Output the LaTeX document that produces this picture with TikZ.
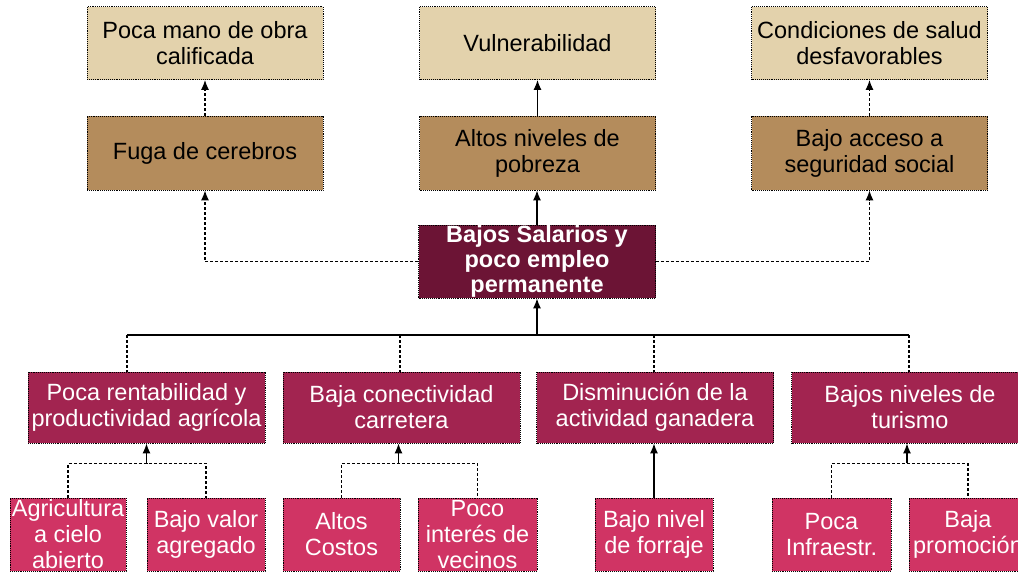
\documentclass[tikz,border=0pt]{standalone}
\usepackage{fontspec}
\setmainfont{Liberation Sans}
\usepackage{xcolor}
\usepackage{tikz}
\usetikzlibrary{positioning,arrows.meta}
\definecolor{beigeclaro}{HTML}{E3D2AC}
\definecolor{cafe}{HTML}{B48C5C}
\definecolor{vino}{HTML}{6C1435}
\definecolor{granate}{HTML}{A22450}
\definecolor{rosa}{HTML}{D03464}

\begin{document}
\begin{tikzpicture}[x=1pt,y=-1pt,
    caja/.style={draw=black,densely dotted,line width=0.9pt,align=center,inner sep=0pt,
        font=\fontsize{23.5}{26}\selectfont},
    efecto/.style={caja,fill=beigeclaro,minimum width=236pt,minimum height=73pt},
    consecuencia/.style={caja,fill=cafe,minimum width=236pt,minimum height=74pt},
    central/.style={caja,fill=vino,text=white,minimum width=237pt,minimum height=73pt,
        font=\bfseries\fontsize{23.5}{25}\selectfont},
    causa/.style={caja,fill=granate,text=white,minimum width=237pt,minimum height=71pt},
    subcausa/.style={caja,fill=rosa,text=white,minimum width=#1,minimum height=73pt},
    subcausa/.default=118pt,
    flecha/.style={line width=1.2pt,-{Latex[length=10pt,width=8pt]}},
    enlace/.style={flecha,densely dashed},
    tramo/.style={line width=1.2pt,densely dashed}
]
            \path[use as bounding box] (0,0) rectangle (1018,573);
            \clip (0,0) rectangle (1018,573);

            \node[efecto] (mano) at (205,43) {Poca mano de obra\\calificada};
            \node[efecto] (vulner) at (537.5,43) {Vulnerabilidad};
            \node[efecto] (salud) at (869.5,43) {Condiciones de salud\\desfavorables};

            \node[consecuencia] (fuga) at (205,153) {Fuga de cerebros};
            \node[consecuencia] (pobreza) at (537.5,153) {Altos niveles de\\pobreza};
            \node[consecuencia] (seguro) at (869.5,153) {Bajo acceso a\\seguridad social};

            \node[central] (salario) at (537,261.5) {Bajos Salarios y\\poco empleo\\permanente};

            \node[causa] (rent) at (146.5,407.5) {Poca rentabilidad y\\productividad agrícola};
            \node[causa] (conect) at (401.5,407.5) {Baja conectividad\\carretera};
            \node[causa] (ganad) at (655,407.5) {Disminución de la\\actividad ganadera};
            \node[causa] (turis) at (910,407.5) {Bajos niveles de\\turismo};

            \node[subcausa=116pt] (agri) at (68,534.5) {Agricultura\\a cielo\\abierto};
            \node[subcausa] (valor) at (206,534.5) {Bajo valor\\agregado};
            \node[subcausa=117pt] (costos) at (341.5,534.5) {Altos\\Costos};
            \node[subcausa=119pt] (interes) at (477.5,534.5) {Poco\\interés de\\vecinos};
            \node[subcausa] (forraje) at (654,534.5) {Bajo nivel\\de forraje};
            \node[subcausa=119pt] (infra) at (831.5,534.5) {Poca\\Infraestr.};
            \node[subcausa] (promo) at (968,534.5) {Baja\\promoción};

            \draw[enlace] (fuga) -- (mano);
            \draw[flecha] (pobreza) -- (vulner);
            \draw[enlace] (seguro) -- (salud);

            \draw[enlace] (salario.west) -| (fuga.south);
            \draw[flecha] (salario.north) -- (salario.north |- pobreza.south);
            \draw[enlace] (salario.east) -| (seguro.south);

            \coordinate (bus) at (537,335);
            \coordinate (b1) at (127,335);
            \coordinate (b2) at (400,335);
            \coordinate (b3) at (654,335);
            \coordinate (b4) at (909,335);
            \draw[line width=1.2pt] (b1) -- (b4);
            \draw[flecha] (bus) -- (salario.south);
            \foreach \b/\n in {b1/rent,b2/conect,b3/ganad,b4/turis}
                \draw[tramo] (\b) -- (\b |- \n.north);

            \path (rent.south) ++(0,20) coordinate (j1);
            \path (conect.south) ++(-3,20) coordinate (j2);
            \path (turis.south) ++(-3,20) coordinate (j4);
            \draw[tramo] (agri.north) |- (j1) -| (valor.north);
            \draw[flecha] (j1) -- (j1 |- rent.south);
            \draw[tramo] (costos.north) |- (j2) -| (interes.north);
            \draw[flecha] (j2) -- (j2 |- conect.south);
            \draw[flecha] (forraje.north) -- (forraje.north |- ganad.south);
            \draw[tramo] (infra.north) |- (j4) -| (promo.north);
            \draw[flecha] (j4) -- (j4 |- turis.south);
        \end{tikzpicture}
\end{document}
